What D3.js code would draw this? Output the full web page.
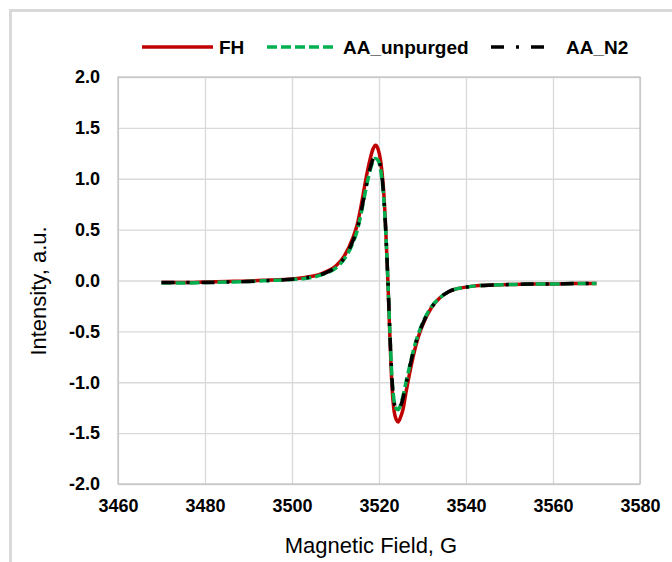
<!DOCTYPE html>
<html>
<head>
<meta charset="utf-8">
<script src="https://cdn.jsdelivr.net/npm/d3@7"></script>
<style>
  html, body { margin: 0; padding: 0; background: #fff; }
  svg { display: block; font-family: Arial, "Liberation Sans", sans-serif; }
</style>
</head>
<body>
<div id="chart"></div>
<script>
(function () {
    "use strict";

    /* ---- data ---- */
    const field = [3470, 3475, 3480, 3485, 3490, 3495, 3500, 3503, 3506, 3508, 3510, 3512, 3514, 3515,
        3516, 3517, 3518, 3518.6, 3519.2, 3519.8, 3520.4, 3521, 3521.5, 3522, 3522.5, 3523, 3523.5,
        3524, 3524.4, 3524.9, 3525.5, 3526.2, 3527, 3528, 3529, 3530, 3532, 3534, 3536, 3538, 3540,
        3543, 3546, 3550, 3555, 3560, 3565, 3570];

    const fhValues = [-0.02, -0.02, -0.015, -0.01, -0.005, 0.005, 0.015, 0.03, 0.055, 0.09, 0.14, 0.24,
        0.42, 0.55, 0.76, 1.00, 1.20, 1.29, 1.33, 1.29, 1.17, 0.92, 0.55, 0.04, -0.55, -1.05, -1.29,
        -1.37, -1.39, -1.35, -1.27, -1.10, -0.92, -0.72, -0.56, -0.44, -0.27, -0.17, -0.11, -0.08,
        -0.065, -0.05, -0.045, -0.04, -0.035, -0.035, -0.03, -0.03];

    const unpurgedValues = [-0.025, -0.025, -0.02, -0.015, -0.01, 0.0, 0.01, 0.02, 0.045, 0.075, 0.12,
        0.21, 0.37, 0.49, 0.68, 0.90, 1.09, 1.17, 1.20, 1.18, 1.08, 0.86, 0.52, 0.05, -0.50, -0.97,
        -1.19, -1.26, -1.27, -1.23, -1.14, -1.00, -0.85, -0.67, -0.53, -0.42, -0.26, -0.17, -0.11,
        -0.08, -0.065, -0.05, -0.045, -0.04, -0.035, -0.035, -0.03, -0.03];

    const n2Values = [-0.02, -0.02, -0.02, -0.015, -0.01, 0.0, 0.012, 0.025, 0.05, 0.08, 0.13, 0.22,
        0.39, 0.51, 0.70, 0.92, 1.11, 1.19, 1.22, 1.20, 1.10, 0.88, 0.53, 0.05, -0.51, -0.98, -1.20,
        -1.27, -1.28, -1.24, -1.16, -1.02, -0.86, -0.68, -0.54, -0.43, -0.27, -0.17, -0.11, -0.08,
        -0.065, -0.05, -0.045, -0.04, -0.035, -0.035, -0.03, -0.03];

    const seriesNames = ["FH", "AA_unpurged", "AA_N2"];
    const xTicks = [3460, 3480, 3500, 3520, 3540, 3560, 3580];
    const yTicks = [-2.0, -1.5, -1.0, -0.5, 0.0, 0.5, 1.0, 1.5, 2.0];

    /* ---- layout ---- */
    const WIDTH = 672;
    const HEIGHT = 562;
    const PLOT = { left: 118, right: 640, top: 77, bottom: 484 };
    const GRID_COLOR = "#d9d9d9";
    const FONT = "Arial, 'Liberation Sans', sans-serif";

    const styles = [
        { color: "#c00000", dash: null, width: 3.5 },
        { color: "#00b050", dash: "10,4", width: 3.5 },
        { color: "#000000", dash: "13,12,3,12", width: 3.5 }
    ];
    const legendPos = [
        { x1: 142, x2: 213, tx: 219 },
        { x1: 267, x2: 337, tx: 343 },
        { x1: 491, x2: 547, tx: 566 }
    ];
    const LEGEND_Y = 47;

    const svg = d3.select("#chart").append("svg")
        .attr("width", WIDTH)
        .attr("height", HEIGHT);

    /* chart border */
    svg.append("rect")
        .attr("x", 10.5).attr("y", 10.5)
        .attr("width", 700).attr("height", 600)
        .attr("fill", "#fff")
        .attr("stroke", GRID_COLOR)
        .attr("stroke-width", 3);

    const x = d3.scaleLinear().domain([3460, 3580]).range([PLOT.left, PLOT.right]);
    const y = d3.scaleLinear().domain([-2, 2]).range([PLOT.bottom, PLOT.top]);

    /* gridlines */
    svg.append("g")
        .attr("transform", "translate(0," + PLOT.bottom + ")")
        .call(d3.axisBottom(x).tickValues(xTicks).tickSize(-(PLOT.bottom - PLOT.top)).tickFormat(""))
        .call(function (g) {
            g.select(".domain").remove();
            g.selectAll("line").attr("stroke", GRID_COLOR).attr("stroke-width", 1.3);
        });
    svg.append("g")
        .attr("transform", "translate(" + PLOT.left + ",0)")
        .call(d3.axisLeft(y).tickValues(yTicks).tickSize(-(PLOT.right - PLOT.left)).tickFormat(""))
        .call(function (g) {
            g.select(".domain").remove();
            g.selectAll("line").attr("stroke", GRID_COLOR).attr("stroke-width", 1.3);
        });

    /* plot border */
    svg.append("rect")
        .attr("x", PLOT.left).attr("y", PLOT.top)
        .attr("width", PLOT.right - PLOT.left).attr("height", PLOT.bottom - PLOT.top)
        .attr("fill", "none")
        .attr("stroke", "#bfbfbf")
        .attr("stroke-width", 1.2);

    /* tick labels */
    const fmtY = function (d) { return d.toFixed(1); };  // plain hyphen minus, as Excel
    svg.append("g")
        .attr("transform", "translate(0," + PLOT.bottom + ")")
        .call(d3.axisBottom(x).tickValues(xTicks).tickSize(0).tickPadding(15).tickFormat(d3.format("d")))
        .call(function (g) {
            g.select(".domain").remove();
            g.selectAll("text").attr("font-size", 18).attr("font-weight", "bold")
                .attr("font-family", FONT).attr("fill", "#000");
        });
    svg.append("g")
        .attr("transform", "translate(" + PLOT.left + ",0)")
        .call(d3.axisLeft(y).tickValues(yTicks).tickSize(0).tickPadding(18).tickFormat(fmtY))
        .call(function (g) {
            g.select(".domain").remove();
            g.selectAll("text").attr("font-size", 18).attr("font-weight", "bold")
                .attr("font-family", FONT).attr("fill", "#000");
        });

    /* axis titles */
    svg.append("text")
        .attr("x", 371)
        .attr("y", 553)
        .attr("text-anchor", "middle")
        .attr("font-size", 22)
        .text("Magnetic Field, G");
    svg.append("text")
        .attr("transform", "translate(46,291) rotate(-90)")
        .attr("text-anchor", "middle")
        .attr("font-size", 22)
        .text("Intensity, a.u.");

    /* series */
    const allValues = [fhValues, unpurgedValues, n2Values];
    const line = d3.line()
        .x(function (d) { return x(d[0]); })
        .y(function (d) { return y(d[1]); })
        .curve(d3.curveMonotoneX);

    const plotG = svg.append("g");
    allValues.forEach(function (vals, i) {
        const pts = field.map(function (f, j) { return [f, vals[j]]; });
        plotG.append("path")
            .datum(pts)
            .attr("d", line)
            .attr("fill", "none")
            .attr("stroke", styles[i].color)
            .attr("stroke-width", styles[i].width)
            .attr("stroke-dasharray", styles[i].dash)
            .attr("stroke-linejoin", "round");
    });

    /* legend */
    const legend = svg.append("g");
    seriesNames.forEach(function (name, i) {
        const p = legendPos[i];
        legend.append("line")
            .attr("x1", p.x1).attr("x2", p.x2)
            .attr("y1", LEGEND_Y).attr("y2", LEGEND_Y)
            .attr("stroke", styles[i].color)
            .attr("stroke-width", styles[i].width)
            .attr("stroke-dasharray", styles[i].dash);
        legend.append("text")
            .attr("x", p.tx).attr("y", LEGEND_Y)
            .attr("dy", "0.35em")
            .attr("font-size", 19)
            .attr("font-weight", "bold")
            .text(name);
    });
})();
</script>
</body>
</html>
